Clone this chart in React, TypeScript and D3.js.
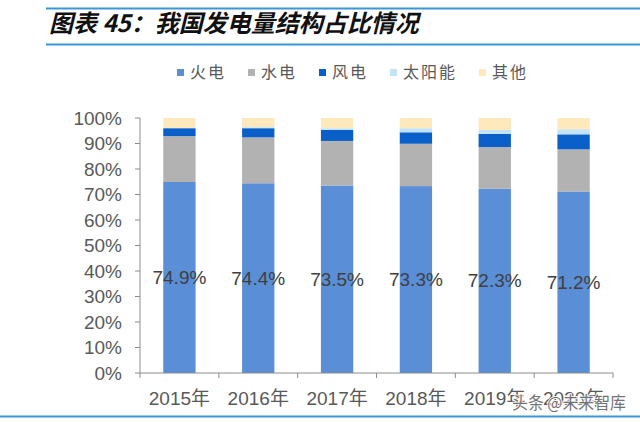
import React from "react";
import * as d3 from "d3";

const years = ["2015年", "2016年", "2017年", "2018年", "2019年", "2020年"];
const seriesNames = ["火电", "水电", "风电", "太阳能", "其他"];
const thermal = [74.9, 74.4, 73.5, 73.3, 72.3, 71.2];
const hydro = [18.0, 18.0, 17.5, 16.6, 16.3, 16.5];
const wind = [3.1, 3.6, 4.3, 4.5, 5.2, 5.9];
const solar = [0.1, 0.4, 0.7, 1.6, 1.5, 2.0];
const other = [3.9, 3.6, 4.0, 4.0, 4.7, 4.4];
const yTicks = [0, 10, 20, 30, 40, 50, 60, 70, 80, 90, 100];
const colors = ["#5A8ED6", "#B2B2B2", "#0A60C8", "#C3E4F8", "#FDE9BC"];

const W = 640;
const H = 422;
const left = 140;
const right = 613;
const top = 118;
const bottom = 373;

export default function App() {
  const rows = years.map((y, i) => ({
    year: y,
    火电: thermal[i],
    水电: hydro[i],
    风电: wind[i],
    太阳能: solar[i],
    其他: other[i],
  }));
  const stacked = d3.stack<any>().keys(seriesNames)(rows);
  const x = d3.scaleBand<string>().domain(years).range([left, right]).padding(0);
  const y = d3.scaleLinear().domain([0, 100]).range([bottom, top]);
  const bw = x.bandwidth() * 0.41;
  const axisColor = "#8C8C8C";
  const sans = "'Liberation Sans', Arial, 'Noto Sans CJK SC', sans-serif";
  const cjk = "'Noto Sans CJK SC', sans-serif";

  let lx = 177;
  const legendItems = seriesNames.map((n, i) => {
    const item = { name: n, x: lx, color: colors[i] };
    lx += 7 + 6 + n.length * 18 + 22;
    return item;
  });

  return (
    <svg
      width={W}
      height={H}
      style={{ position: "absolute", left: 0, top: 0, background: "#fff" }}
    >
      <line x1={46} x2={W} y1={8.5} y2={8.5} stroke="#3A96D8" strokeWidth={2} />
      <line x1={46} x2={W} y1={44.5} y2={44.5} stroke="#3A96D8" strokeWidth={2} />
      <text
        x={49}
        y={32}
        fontFamily={cjk}
        fontSize={24}
        fontWeight="bold"
        fontStyle="italic"
        fill="#111"
      >
        图表 45：我国发电量结构占比情况
      </text>

      {legendItems.map((it) => (
        <g key={it.name}>
          <rect x={it.x} y={69} width={7} height={7} fill={it.color} />
          <text
            x={it.x + 13}
            y={78}
            fontFamily={cjk}
            fontSize={16}
            letterSpacing={2}
            fill="#595959"
          >
            {it.name}
          </text>
        </g>
      ))}

      {stacked.map((s, si) => (
        <g key={s.key} fill={colors[si]}>
          {s.map((d: any, i: number) => (
            <rect
              key={i}
              x={(x(years[i]) as number) + x.bandwidth() / 2 - bw / 2}
              y={y(d[1])}
              width={bw}
              height={y(d[0]) - y(d[1])}
            />
          ))}
        </g>
      ))}

      {stacked[0].map((d: any, i: number) => (
        <text
          key={i}
          x={(x(years[i]) as number) + x.bandwidth() / 2}
          y={(y(d[0]) + y(d[1])) / 2}
          dy="0.35em"
          textAnchor="middle"
          fontFamily={sans}
          fontSize={19}
          fill="#404040"
        >
          {thermal[i].toFixed(1)}%
        </text>
      ))}

      <line x1={left} x2={left} y1={top} y2={bottom} stroke={axisColor} strokeWidth={1} />
      {yTicks.map((t) => (
        <g key={t}>
          <line x1={left - 5} x2={left} y1={y(t)} y2={y(t)} stroke={axisColor} />
          <text
            x={122}
            y={y(t)}
            dy="0.35em"
            textAnchor="end"
            fontFamily={sans}
            fontSize={19}
            fill="#595959"
          >
            {t}%
          </text>
        </g>
      ))}

      <line x1={left} x2={right} y1={bottom} y2={bottom} stroke={axisColor} strokeWidth={1} />
      {years.map((yr, i) => (
        <line
          key={"t" + i}
          x1={x(yr) as number}
          x2={x(yr) as number}
          y1={bottom}
          y2={bottom + 5}
          stroke={axisColor}
        />
      ))}
      <line x1={right} x2={right} y1={bottom} y2={bottom + 5} stroke={axisColor} />
      {years.map((yr) => (
        <text
          key={yr}
          x={(x(yr) as number) + x.bandwidth() / 2}
          y={405}
          textAnchor="middle"
          fontFamily={sans}
          fontSize={19}
          fill="#595959"
        >
          {yr}
        </text>
      ))}

      <line x1={0} x2={W} y1={416.5} y2={416.5} stroke="#3A96D8" strokeWidth={2} />

      <text
        x={512}
        y={409}
        fontFamily={cjk}
        fontSize={17}
        textLength={114}
        lengthAdjust="spacingAndGlyphs"
        fill="#666"
        stroke="#fff"
        strokeWidth={2}
        paintOrder="stroke"
        opacity={0.9}
      >
        头条 @未来智库
      </text>
    </svg>
  );
}
